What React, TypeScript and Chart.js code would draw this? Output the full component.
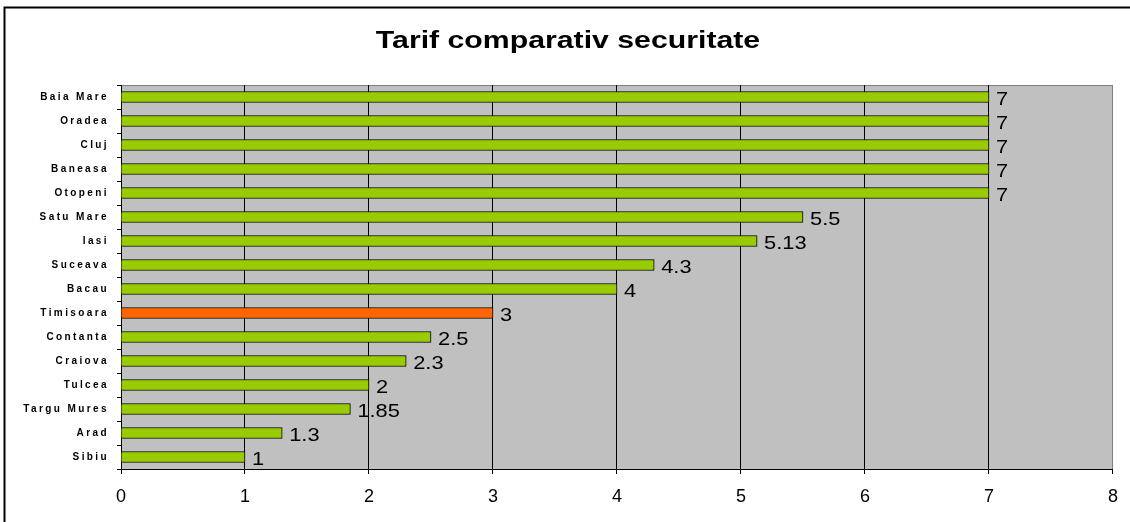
import React, { useEffect, useRef } from "react";
import { Chart, registerables } from "chart.js";

Chart.register(...registerables);

const TITLE = "Tarif comparativ securitate";
const cities = [
  "Baia Mare", "Oradea", "Cluj", "Baneasa", "Otopeni", "Satu Mare", "Iasi", "Suceava",
  "Bacau", "Timisoara", "Contanta", "Craiova", "Tulcea", "Targu Mures", "Arad", "Sibiu",
];
const tariffs = [7, 7, 7, 7, 7, 5.5, 5.13, 4.3, 4, 3, 2.5, 2.3, 2, 1.85, 1.3, 1];
const highlighted = ["Timisoara"];
const xTicks = [0, 1, 2, 3, 4, 5, 6, 7, 8];

const GREEN = "#99CC00";
const ORANGE = "#FF6600";
const FONT = '"Liberation Sans", Arial, Helvetica, sans-serif';

function stretchedText(ctx: any, text: string, x: number, y: number, sx: number) {
  ctx.save();
  ctx.translate(x, y);
  ctx.scale(sx, 1);
  ctx.fillText(text, 0, 0);
  ctx.restore();
}

const decorPlugin = {
  id: "decor",
  beforeDraw(chart: any) {
    const { ctx, chartArea: a } = chart;
    ctx.save();
    ctx.fillStyle = "#C0C0C0";
    ctx.fillRect(a.left, a.top, a.right - a.left, a.bottom - a.top);
    ctx.strokeStyle = "#808080";
    ctx.lineWidth = 1;
    ctx.strokeRect(a.left + 0.5, a.top + 0.5, a.right - a.left - 1, a.bottom - a.top);
    ctx.restore();
    (ctx as any).letterSpacing = "2.4px";
  },
  beforeDatasetsDraw(chart: any) {
    (chart.ctx as any).letterSpacing = "0px";
  },
  afterDatasetsDraw(chart: any) {
    const { ctx } = chart;
    const meta = chart.getDatasetMeta(0);
    ctx.save();
    ctx.font = `19px ${FONT}`;
    ctx.fillStyle = "#000";
    ctx.textAlign = "left";
    ctx.textBaseline = "alphabetic";
    meta.data.forEach((bar: any, i: number) => {
      stretchedText(ctx, String(tariffs[i]), bar.x + 7, bar.y + 8, 1.15);
    });
    ctx.restore();
  },
  afterDraw(chart: any) {
    const { ctx } = chart;
    ctx.save();
    ctx.font = `bold 24px ${FONT}`;
    ctx.fillStyle = "#000";
    ctx.textAlign = "left";
    ctx.textBaseline = "alphabetic";
    const sx = 1.26;
    const w = ctx.measureText(TITLE).width * sx;
    stretchedText(ctx, TITLE, 568 - w / 2, 48, sx);
    ctx.strokeStyle = "#000";
    ctx.lineWidth = 2;
    ctx.strokeRect(4.5, 7.5, 2000, 2000);
    ctx.restore();
  },
};

export default function App() {
  const ref = useRef<HTMLCanvasElement>(null);
  useEffect(() => {
    document.body.style.margin = "0";
    const chart = new Chart(ref.current!, {
      type: "bar",
      data: {
        labels: cities,
        datasets: [
          {
            data: tariffs,
            backgroundColor: cities.map((c) => (highlighted.includes(c) ? ORANGE : GREEN)),
            borderColor: "#000",
            borderWidth: 1,
            barThickness: 11,
          },
        ],
      },
      options: {
        indexAxis: "y",
        responsive: false,
        animation: false,
        devicePixelRatio: 1,
        layout: { padding: { left: 0, right: 15, top: 85, bottom: 0 } },
        plugins: { legend: { display: false }, title: { display: false }, tooltip: { enabled: false } },
        scales: {
          x: {
            type: "linear",
            min: 0,
            max: 8,
            afterFit(s: any) { s.height = 53; },
            afterBuildTicks(s: any) { s.ticks = xTicks.map((v) => ({ value: v })); },
            grid: {
              color: (c: any) => (c.tick && c.tick.value === 8 ? "#808080" : "#000"),
              tickColor: "#000",
              tickLength: 5,
              lineWidth: 1,
            },
            border: { display: true, color: "#000", width: 1 },
            ticks: { stepSize: 1, color: "#000", padding: 12, z: 1, font: { family: FONT, size: 18 } },
          },
          y: {
            type: "category",
            afterFit(s: any) { s.width = 121; },
            grid: { drawOnChartArea: false, offset: true, color: "#000", tickLength: 4 },
            border: { display: true, color: "#000", width: 1 },
            ticks: { color: "#000", padding: 8, font: { family: FONT, size: 10, weight: "bold" } },
          },
        },
      },
      plugins: [decorPlugin],
    } as any);
    return () => chart.destroy();
  }, []);
  return (
    <div style={{ width: 1130, height: 522 }}>
      <canvas ref={ref} width={1130} height={522} style={{ display: "block" }} />
    </div>
  );
}
